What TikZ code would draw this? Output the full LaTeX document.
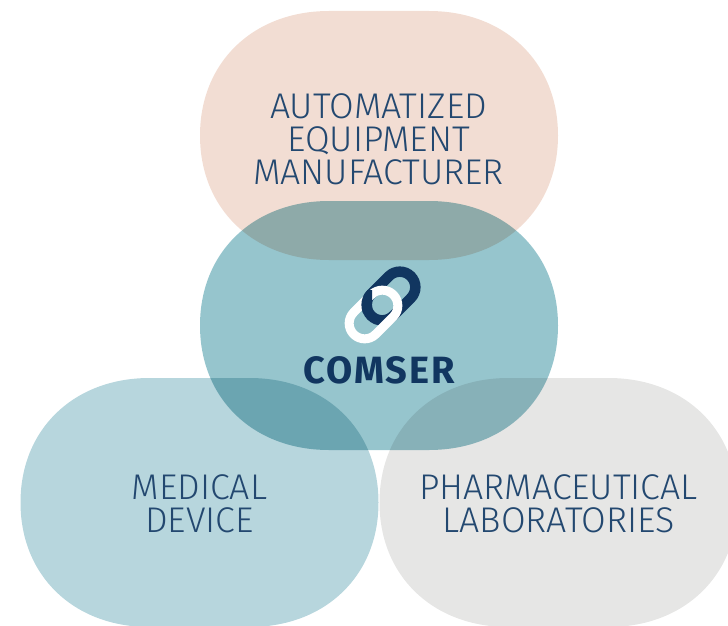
\documentclass[tikz,border=0pt]{standalone}
\usepackage{fontspec}
\setmainfont{Fira Sans}[UprightFont={* Light},BoldFont={* Bold}]
\definecolor{peachfill}{HTML}{F2DDD3}
\definecolor{tealfill}{HTML}{96C5CD}
\definecolor{bluefill}{HTML}{B7D6DD}
\definecolor{greyfill}{HTML}{E6E6E5}
\definecolor{labeltext}{HTML}{234870}
\definecolor{navy}{HTML}{113660}
\tikzset{
  blob/.pic={
    \path[fill=#1, blend mode=multiply] (-179,0)
      .. controls (-179,-74) and (-125,-124.5) .. (-50,-124.5) -- (50,-124.5)
      .. controls (125,-124.5) and (179,-74) .. (179,0)
      .. controls (179,74) and (125,124.5) .. (50,124.5) -- (-50,124.5)
      .. controls (-125,124.5) and (-179,74) .. (-179,0) -- cycle;
  },
  label/.style={align=center, text=labeltext, font=\fontsize{35.7}{33}\selectfont, inner sep=0pt},
  linkring/.style={rectangle, draw=#1, line width=9pt, minimum width=56pt, minimum height=31pt, rounded corners=15.5pt, inner sep=0pt, outer sep=0pt, rotate=45},
}
\begin{document}
\begin{tikzpicture}[x=1pt,y=-1pt]
\useasboundingbox (0,0) rectangle (728,626);
\pic at (379,135.5) {blob=peachfill};
\pic at (379,325.5) {blob=tealfill};
\pic at (199.5,502.5) {blob=bluefill};
\pic at (558.5,502.5) {blob=greyfill};
\node (v0) at (378.5,139) [label] {AUTOMATIZED\\EQUIPMENT\\MANUFACTURER};
\node (v2) at (199.5,504) [label] {MEDICAL\\DEVICE};
\node (v3) at (558.5,504) [label] {PHARMACEUTICAL\\LABORATORIES};
\node (l0) at (391,296) [linkring=navy, line width=10.5pt] {};
\node (l1) at (373.5,314.5) [linkring=white] {};
\begin{scope}
\clip (352,290) rectangle (372,312);
\node (l2) at (391,296) [linkring=navy, line width=10.5pt] {};
\end{scope}
\node (v1) at (379,370) [text=navy, font=\fontsize{38}{38}\selectfont\bfseries\addfontfeature{LetterSpace=5}, inner sep=0pt] {COMSER};
\end{tikzpicture}
\end{document}
